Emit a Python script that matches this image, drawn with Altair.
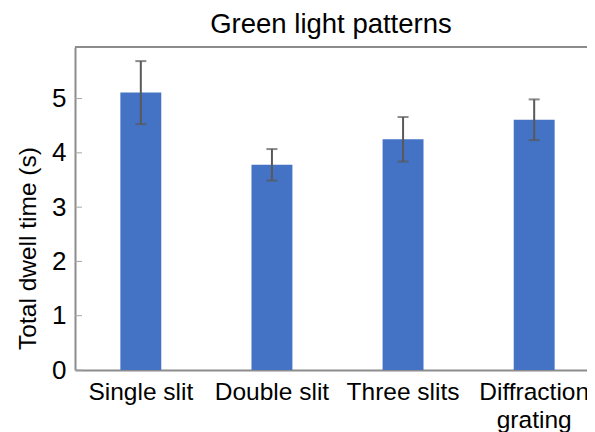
import altair as alt
import pandas as pd

categories = ["Single slit", "Double slit", "Three slits", "Diffraction grating"]
means = [5.11, 3.78, 4.25, 4.61]
errors = [0.58, 0.29, 0.41, 0.375]
y_ticks = [0, 1, 2, 3, 4, 5]

df = pd.DataFrame({"cat": categories, "mean": means, "err": errors})
df["lo"] = df["mean"] - df["err"]
df["hi"] = df["mean"] + df["err"]
ticks_df = pd.DataFrame({"t": y_ticks})

FONT = "Liberation Sans"
xscale = alt.Scale(domain=categories, range=[0, 525], paddingInner=0.688, paddingOuter=0.346)
yscale = alt.Scale(domain=[0, 5.95], nice=False)

x_enc = alt.X(
    "cat:N", scale=xscale, sort=categories, title=None,
    axis=alt.Axis(
        labelAngle=0, ticks=False, tickSize=0, labelPadding=10,
        labelFontSize=24.5, labelFont=FONT, labelColor="#000000",
        domainColor="#8c8c8c", domainWidth=2,
        labelLineHeight=28,
        labelExpr="datum.value == 'Diffraction grating' ? ['Diffraction', 'grating'] : datum.label",
    ),
)

bars = alt.Chart(df).mark_bar(color="#4472C4").encode(
    x=x_enc,
    y=alt.Y(
        "mean:Q", scale=yscale, title="Total dwell time (s)",
        axis=alt.Axis(
            values=y_ticks, format="d", ticks=False, tickSize=0, labelPadding=9, grid=False,
            labelFontSize=26, labelFont=FONT, labelColor="#000000",
            domainColor="#8c8c8c", domainWidth=2,
            titleFontSize=24.5, titleFont=FONT, titleColor="#000000", titleFontWeight="normal",
            titleAngle=270, titleBaseline="alphabetic", titleX=-40, titleY=201,
        ),
    ),
)

err_rule = alt.Chart(df).mark_rule(color="#595959", strokeWidth=2).encode(
    x=alt.X("cat:N", scale=xscale, sort=categories),
    y=alt.Y("lo:Q", scale=yscale),
    y2="hi:Q",
)
cap_lo = alt.Chart(df).mark_tick(color="#595959", thickness=2, size=11).encode(
    x=alt.X("cat:N", scale=xscale, sort=categories),
    y=alt.Y("lo:Q", scale=yscale),
)
cap_hi = alt.Chart(df).mark_tick(color="#595959", thickness=2, size=11).encode(
    x=alt.X("cat:N", scale=xscale, sort=categories),
    y=alt.Y("hi:Q", scale=yscale),
)

inner_ticks = alt.Chart(ticks_df).mark_rule(color="#a6a6a6", strokeWidth=1).encode(
    y=alt.Y("t:Q", scale=yscale),
    x=alt.value(0),
    x2=alt.value(7),
)

top_line = alt.Chart(ticks_df).mark_rule(color="#8c8c8c", strokeWidth=2).encode(
    x=alt.value(0),
    x2=alt.value(525),
    y=alt.value(0),
)

chart = alt.layer(bars, inner_ticks, err_rule, cap_lo, cap_hi, top_line).properties(
    width=512,
    height=323,
    autosize=alt.AutoSizeParams(type="none"),
    padding={"left": 67, "top": 39, "right": 0, "bottom": 62},
    title=alt.TitleParams(
        "Green light patterns", fontSize=27.5, font=FONT, fontWeight="normal",
        color="#000000", anchor="middle", baseline="alphabetic", offset=13, dy=27,
    ),
).configure_view(stroke=None).configure(background="white")

chart.save("out.html", embed_options={"renderer": "svg", "actions": False})
